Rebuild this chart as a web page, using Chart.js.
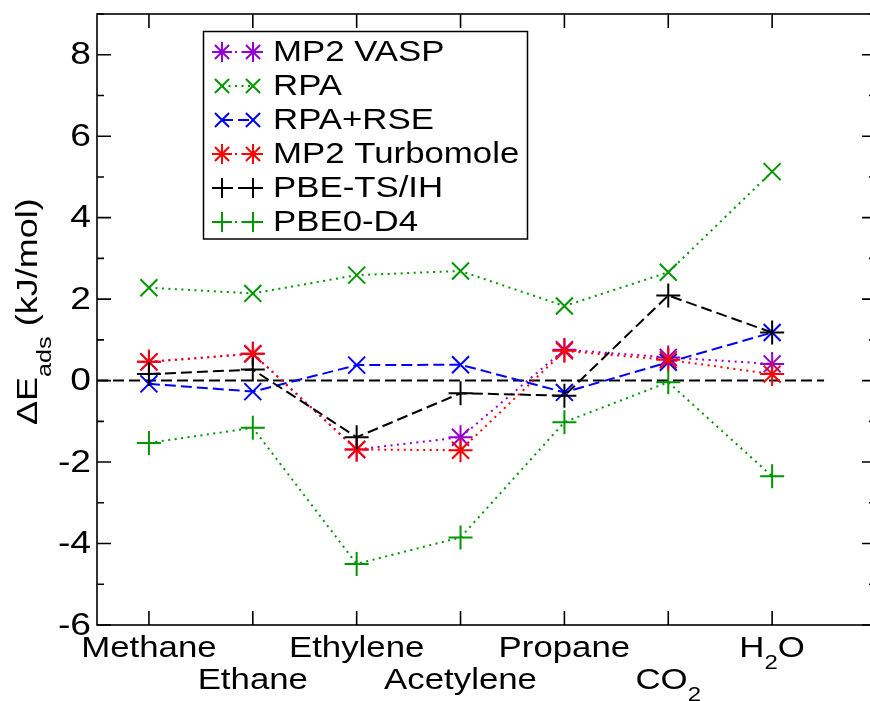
<!DOCTYPE html>
<html><head><meta charset="utf-8">
<script src="https://cdn.jsdelivr.net/npm/chart.js@4/dist/chart.umd.min.js"></script>
<style>
html,body{margin:0;padding:0;overflow:hidden;background:#fff;width:870px;height:701px}
canvas{display:block}
</style></head>
<body>
<canvas id="c" width="890" height="701"></canvas>
<script>
// ---- data ----
const categories = ['Methane', 'Ethane', 'Ethylene', 'Acetylene', 'Propane', 'CO2', 'H2O'];
const yTickValues = [-6, -4, -2, 0, 2, 4, 6, 8];
const yTickLabels = ['-6', '-4', '-2', '0', '2', '4', '6', '8'];
const seriesNames = ['MP2 VASP', 'RPA', 'RPA+RSE', 'MP2 Turbomole', 'PBE-TS/IH', 'PBE0-D4'];
const mp2Vasp  = [0.46, 0.66, -1.69, -1.39, 0.76, 0.57, 0.41];
const rpa      = [2.28, 2.14, 2.59, 2.69, 1.83, 2.66, 5.13];
const rpaRse   = [-0.08, -0.27, 0.38, 0.39, -0.29, 0.45, 1.18];
const mp2Turbo = [0.46, 0.66, -1.69, -1.71, 0.73, 0.51, 0.16];
const pbeTs    = [0.16, 0.27, -1.39, -0.31, -0.37, 2.09, 1.18];
const pbe0D4   = [-1.53, -1.16, -4.50, -3.85, -1.02, -0.04, -2.35];
const seriesValues = [mp2Vasp, rpa, rpaRse, mp2Turbo, pbeTs, pbe0D4];

// ---- styles ----
const FONT = '"Liberation Sans", Arial, Helvetica, sans-serif';
const SX = 1.2; // horizontal text stretch seen in the reference
const GREEN = 'rgb(0,150,0)';
const DOT = [2, 4.5], DASH = [11, 5];
const styles = [
  {color: '#9400d3', point: 'star', dash: DOT},
  {color: GREEN, point: 'crossRot', dash: DOT},
  {color: '#0000ff', point: 'crossRot', dash: DASH},
  {color: '#ff0000', point: 'star', dash: DOT},
  {color: '#000000', point: 'cross', dash: DASH},
  {color: GREEN, point: 'cross', dash: DOT}
];

const datasets = seriesNames.map((name, i) => ({
  label: name,
  data: seriesValues[i].map((v, j) => ({x: j + 1, y: v})),
  borderColor: styles[i].color,
  backgroundColor: 'transparent',
  borderWidth: 2,
  borderDash: styles[i].dash,
  pointStyle: styles[i].point,
  pointRadius: 12,
  pointHoverRadius: 12,
  pointBorderWidth: 2,
  pointBorderColor: styles[i].color,
  pointBackgroundColor: 'transparent',
  tension: 0,
  fill: false,
  order: seriesNames.length - i
}));

function marker(ctx, style, x, y, r) {
  const d = r * Math.SQRT1_2;
  ctx.beginPath();
  if (style === 'cross' || style === 'star') {
    ctx.moveTo(x - r, y); ctx.lineTo(x + r, y);
    ctx.moveTo(x, y - r); ctx.lineTo(x, y + r);
  }
  if (style === 'crossRot' || style === 'star') {
    ctx.moveTo(x - d, y - d); ctx.lineTo(x + d, y + d);
    ctx.moveTo(x - d, y + d); ctx.lineTo(x + d, y - d);
  }
  ctx.stroke();
}

// text with digits rendered as subscripts, centered at cx
function subText(ctx, text, cx, baseline, size, subSize, subOff) {
  const parts = text.match(/\d+|\D+/g);
  let w = 0;
  const ws = parts.map(p => {
    ctx.font = (/\d/.test(p) ? subSize : size) + 'px ' + FONT;
    const m = ctx.measureText(p).width * SX; w += m; return m;
  });
  let x = cx - w / 2;
  parts.forEach((p, k) => {
    const sub = /\d/.test(p);
    ctx.font = (sub ? subSize : size) + 'px ' + FONT;
    ctx.save();
    ctx.translate(x, baseline + (sub ? subOff : 0));
    ctx.scale(SX, 1);
    ctx.textAlign = 'left'; ctx.textBaseline = 'alphabetic';
    ctx.fillText(p, 0, 0);
    ctx.restore();
    x += ws[k];
  });
}

const decor = {
  id: 'decor',
  beforeDatasetsDraw(chart) {
    const ctx = chart.ctx, xs = chart.scales.x, ys = chart.scales.y, a = chart.chartArea;
    ctx.save();
    // zero reference line
    ctx.strokeStyle = '#000'; ctx.lineWidth = 2; ctx.setLineDash(DASH);
    ctx.beginPath();
    ctx.moveTo(xs.getPixelForValue(0.5), ys.getPixelForValue(0));
    ctx.lineTo(xs.getPixelForValue(7.5), ys.getPixelForValue(0));
    ctx.stroke();
    ctx.setLineDash([]);
    // frame
    ctx.lineWidth = 1.6;
    ctx.strokeRect(a.left, a.top, a.right - a.left, a.bottom - a.top);
    // y ticks (major every 2, minor every 1)
    for (let v = ys.min; v <= ys.max; v += 1) {
      const y = ys.getPixelForValue(v);
      const len = (v % 2 === 0) ? 14 : 7;
      ctx.beginPath();
      ctx.moveTo(a.left, y); ctx.lineTo(a.left + len, y);
      ctx.moveTo(a.right, y); ctx.lineTo(a.right - len, y);
      ctx.stroke();
    }
    // x ticks at categories
    categories.forEach((c, i) => {
      const x = xs.getPixelForValue(i + 1);
      ctx.beginPath();
      ctx.moveTo(x, a.bottom); ctx.lineTo(x, a.bottom - 14);
      ctx.moveTo(x, a.top); ctx.lineTo(x, a.top + 14);
      ctx.stroke();
    });
    // y tick labels
    ctx.fillStyle = '#000';
    ctx.font = '31px ' + FONT;
    yTickValues.forEach((v, i) => {
      const y = ys.getPixelForValue(v);
      ctx.save();
      ctx.translate(91, y);
      ctx.scale(SX, 1);
      ctx.textAlign = 'right'; ctx.textBaseline = 'middle';
      ctx.fillText(yTickLabels[i], 0, 1);
      ctx.restore();
    });
    // x tick labels (staggered)
    categories.forEach((c, i) => {
      const x = xs.getPixelForValue(i + 1);
      const base = (i % 2 === 0) ? 657 : 689;
      subText(ctx, c, x, base, 29, 20, 12);
    });
    // y axis title
    ctx.save();
    ctx.translate(37, 425);
    ctx.rotate(-Math.PI / 2);
    ctx.scale(1.2, 1);
    ctx.textAlign = 'left'; ctx.textBaseline = 'alphabetic';
    ctx.font = '30px ' + FONT;
    let tx = 0;
    ctx.fillText('\u0394E', tx, 0); tx += ctx.measureText('\u0394E').width;
    ctx.font = '21px ' + FONT;
    ctx.fillText('ads', tx, 14); tx += ctx.measureText('ads').width;
    ctx.font = '30px ' + FONT;
    ctx.fillText(' (kJ/mol)', tx, 0);
    ctx.restore();
    ctx.restore();
  },
  afterDatasetsDraw(chart) {
    const ctx = chart.ctx;
    ctx.save();
    // legend box
    ctx.fillStyle = '#fff';
    ctx.fillRect(203.5, 31.5, 324, 207.5);
    ctx.strokeStyle = '#000'; ctx.lineWidth = 1.5;
    ctx.strokeRect(203.5, 31.5, 324, 207.5);
    chart.data.datasets.forEach((ds, i) => {
      const y = 52 + i * 34;
      ctx.strokeStyle = ds.borderColor; ctx.lineWidth = 2;
      ctx.setLineDash(ds.borderDash);
      ctx.beginPath(); ctx.moveTo(222, y); ctx.lineTo(253, y); ctx.stroke();
      ctx.setLineDash([]);
      marker(ctx, ds.pointStyle, 222, y, 10);
      marker(ctx, ds.pointStyle, 253, y, 10);
      ctx.fillStyle = '#000';
      ctx.font = '29px ' + FONT;
      ctx.save();
      ctx.translate(273, y);
      ctx.scale(SX, 1);
      ctx.textAlign = 'left'; ctx.textBaseline = 'middle';
      ctx.fillText(ds.label, 0, 1);
      ctx.restore();
    });
    ctx.restore();
  }
};

new Chart(document.getElementById('c'), {
  type: 'line',
  data: {datasets},
  options: {
    responsive: false,
    animation: false,
    devicePixelRatio: 1,
    events: [],
    layout: {padding: {left: 97, top: 12, right: 11, bottom: 76}},
    plugins: {legend: {display: false}, tooltip: {enabled: false}},
    scales: {
      x: {type: 'linear', min: 0.5, max: 8, display: false},
      y: {type: 'linear', min: -6, max: 9, display: false}
    }
  },
  plugins: [decor]
});
</script>
</body></html>
